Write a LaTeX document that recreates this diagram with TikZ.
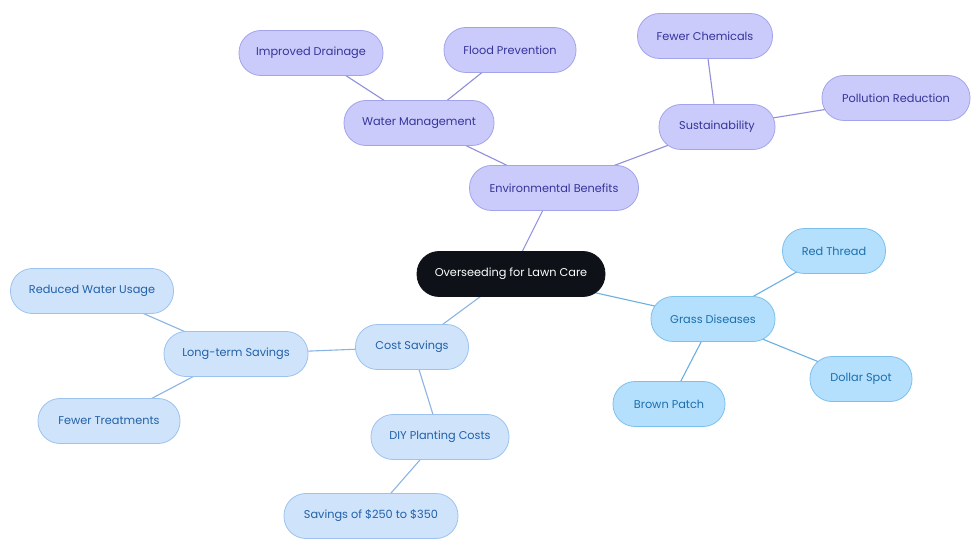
\documentclass[tikz,border=0pt]{standalone}
\usepackage{fontspec}
\setmainfont{Poppins}
\usetikzlibrary{backgrounds}
\definecolor{rootfill}{HTML}{0E1218}
\definecolor{lavfill}{HTML}{CBCBFB}
\definecolor{lavdraw}{HTML}{A3A3EC}
\definecolor{lavtext}{HTML}{34349A}
\definecolor{laved}{HTML}{8F8FDC}
\definecolor{bluefill}{HTML}{B5E0FD}
\definecolor{bluedraw}{HTML}{7CC0EE}
\definecolor{bluetext}{HTML}{1B6FAE}
\definecolor{blueed}{HTML}{6CB0E0}
\definecolor{costfill}{HTML}{CFE4FB}
\definecolor{costdraw}{HTML}{9CC2EF}
\definecolor{costtext}{HTML}{2260A8}
\definecolor{costed}{HTML}{8AB4E4}
\tikzset{
  x=1pt,y=-1pt,
  pill/.style={rectangle,rounded corners=22pt,minimum height=45pt,inner sep=0pt,font=\fontsize{11.3}{13}\selectfont,line width=0.8pt},
  rootbox/.style={pill,fill=rootfill,draw=rootfill,text=white},
  lavbox/.style={pill,fill=lavfill,draw=lavdraw,text=lavtext},
  bluebox/.style={pill,fill=bluefill,draw=bluedraw,text=bluetext},
  costbox/.style={pill,fill=costfill,draw=costdraw,text=costtext},
  lavedge/.style={draw=laved,line width=1.1pt},
  blueedge/.style={draw=blueed,line width=1.1pt},
  costedge/.style={draw=costed,line width=1.1pt}
}
\begin{document}
\begin{tikzpicture}
\useasboundingbox (0,0) rectangle (980,553);
\node[rootbox,minimum width=188pt] (root) at (511,274) {Overseeding for Lawn Care};
\node[lavbox,minimum width=169pt] (env) at (554,188) {Environmental Benefits};
\node[lavbox,minimum width=150pt] (water) at (419,123) {Water Management};
\node[lavbox,minimum width=144pt] (drain) at (311,53) {Improved Drainage};
\node[lavbox,minimum width=132pt] (flood) at (510,50) {Flood Prevention};
\node[lavbox,minimum width=116pt] (sust) at (717,127) {Sustainability};
\node[lavbox,minimum width=135pt] (chem) at (705,36) {Fewer Chemicals};
\node[lavbox,minimum width=148pt] (poll) at (896,98) {Pollution Reduction};
\node[bluebox,minimum width=124pt] (grass) at (713,319) {Grass Diseases};
\node[bluebox,minimum width=103pt] (red) at (834,251) {Red Thread};
\node[bluebox,minimum width=102pt] (dollar) at (861,379) {Dollar Spot};
\node[bluebox,minimum width=112pt] (brown) at (669,404) {Brown Patch};
\node[costbox,minimum width=113pt] (cost) at (412,347) {Cost Savings};
\node[costbox,minimum width=144pt] (long) at (236,354) {Long-term Savings};
\node[costbox,minimum width=163pt] (reduced) at (92,291) {Reduced Water Usage};
\node[costbox,minimum width=142pt] (treat) at (109,421) {Fewer Treatments};
\node[costbox,minimum width=138pt] (diy) at (440,437) {DIY Planting Costs};
\node[costbox,minimum width=174pt] (sav) at (371,516) {Savings of \$250 to \$350};
\begin{scope}[on background layer]
\path[fill=white] (0,0) rectangle (980,553);
\draw[lavedge] (root.center) -- (env.center);
\draw[lavedge] (env.center) -- (water.center);
\draw[lavedge] (env.center) -- (sust.center);
\draw[lavedge] (water.center) -- (drain.center);
\draw[lavedge] (water.center) -- (flood.center);
\draw[lavedge] (sust.center) -- (chem.center);
\draw[lavedge] (sust.center) -- (poll.center);
\draw[blueedge] (root.center) -- (grass.center);
\draw[blueedge] (grass.center) -- (red.center);
\draw[blueedge] (grass.center) -- (dollar.center);
\draw[blueedge] (grass.center) -- (brown.center);
\draw[costedge] (root.center) -- (cost.center);
\draw[costedge] (cost.center) -- (long.center);
\draw[costedge] (long.center) -- (reduced.center);
\draw[costedge] (long.center) -- (treat.center);
\draw[costedge] (cost.center) -- (diy.center);
\draw[costedge] (diy.center) -- (sav.center);
\end{scope}
\end{tikzpicture}
\end{document}
